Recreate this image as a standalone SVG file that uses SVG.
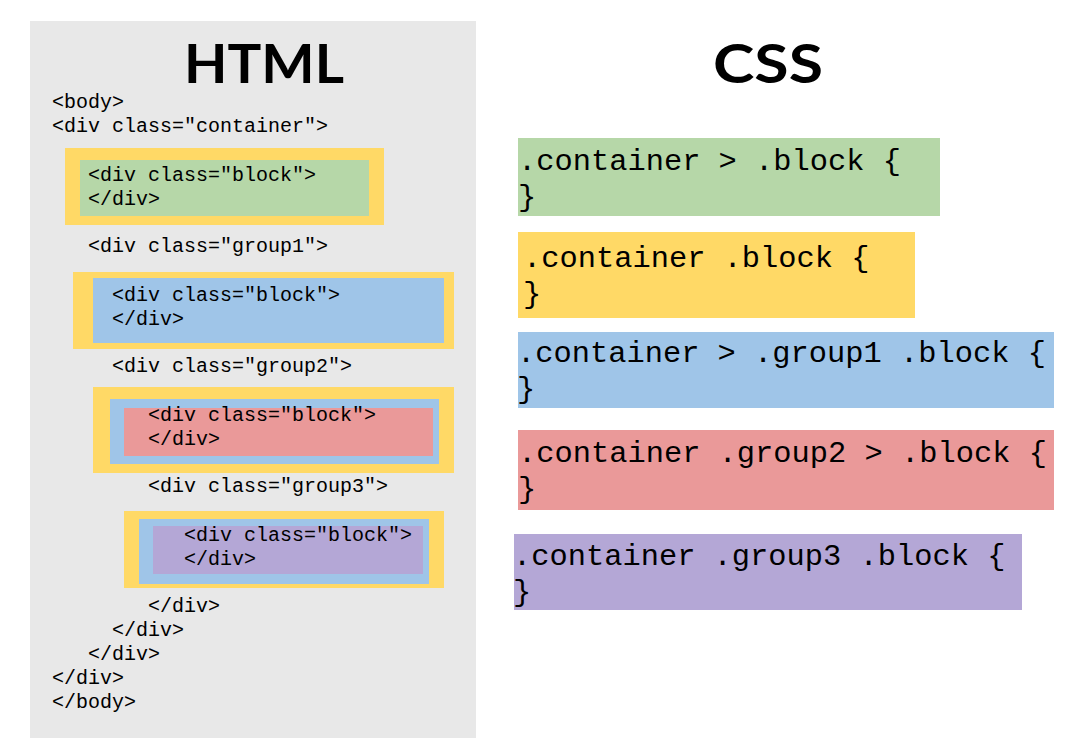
<svg xmlns="http://www.w3.org/2000/svg" width="1083" height="753" viewBox="0 0 1083 753">
<style>
.title{font-family:Lato,"Noto Sans","Liberation Sans",sans-serif;font-weight:700;font-size:54px;fill:#000;text-anchor:middle}
.code{font-family:"Liberation Mono","Courier New",monospace;font-size:20px;fill:#000}
.css{font-family:"Liberation Mono","Courier New",monospace;font-size:30.4px;fill:#000}
.y{fill:#ffd966}.g{fill:#b6d7a8}.b{fill:#9fc5e8}.r{fill:#ea9999}.p{fill:#b4a7d6}
</style>
<rect width="1083" height="753" fill="#ffffff"/>
<g id="html-panel">
<rect x="30" y="21" width="446" height="717" fill="#e8e8e8"/>
<text class="title" x="264" y="83" textLength="160" lengthAdjust="spacingAndGlyphs">HTML</text>
</g>
<g id="html-code">
<text class="code" x="52" y="108">&lt;body&gt;</text>
<text class="code" x="52" y="132">&lt;div class="container"&gt;</text>
<text class="code" x="88" y="252">&lt;div class="group1"&gt;</text>
<text class="code" x="112" y="372">&lt;div class="group2"&gt;</text>
<text class="code" x="148" y="492">&lt;div class="group3"&gt;</text>
<text class="code" x="148" y="612">&lt;/div&gt;</text>
<text class="code" x="112" y="636">&lt;/div&gt;</text>
<text class="code" x="88" y="660">&lt;/div&gt;</text>
<text class="code" x="52" y="684">&lt;/div&gt;</text>
<text class="code" x="52" y="708">&lt;/body&gt;</text>
</g>
<g id="html-block1">
<rect class="y" x="65" y="148" width="319" height="77"/>
<rect class="g" x="80" y="160" width="289" height="56"/>
<text class="code" x="88" y="181">&lt;div class="block"&gt;</text>
<text class="code" x="88" y="205">&lt;/div&gt;</text>
</g>
<g id="html-block2">
<rect class="y" x="73" y="272" width="381" height="77"/>
<rect class="b" x="93" y="278" width="351" height="65"/>
<text class="code" x="112" y="301">&lt;div class="block"&gt;</text>
<text class="code" x="112" y="325">&lt;/div&gt;</text>
</g>
<g id="html-block3">
<rect class="y" x="93" y="387" width="361" height="86"/>
<rect class="b" x="110" y="399" width="329" height="65"/>
<rect class="r" x="124" y="408" width="309" height="48"/>
<text class="code" x="148" y="421">&lt;div class="block"&gt;</text>
<text class="code" x="148" y="445">&lt;/div&gt;</text>
</g>
<g id="html-block4">
<rect class="y" x="124" y="511" width="320" height="77"/>
<rect class="b" x="139" y="519" width="290" height="65"/>
<rect class="p" x="153" y="526" width="270" height="48"/>
<text class="code" x="184" y="541">&lt;div class="block"&gt;</text>
<text class="code" x="184" y="565">&lt;/div&gt;</text>
</g>
<g id="css-title">
<text class="title" x="768" y="83" textLength="110" lengthAdjust="spacingAndGlyphs">CSS</text>
</g>
<g id="css-rule1">
<rect class="g" x="518" y="138" width="422" height="78"/>
<text class="css" x="518" y="170">.container &gt; .block {</text>
<text class="css" x="518" y="206">}</text>
</g>
<g id="css-rule2">
<rect class="y" x="518" y="232" width="397" height="86"/>
<text class="css" x="523" y="267">.container .block {</text>
<text class="css" x="523" y="303">}</text>
</g>
<g id="css-rule3">
<rect class="b" x="518" y="332" width="536" height="76"/>
<text class="css" x="517" y="362">.container &gt; .group1 .block {</text>
<text class="css" x="517" y="398">}</text>
</g>
<g id="css-rule4">
<rect class="r" x="518" y="430" width="536" height="80"/>
<text class="css" x="518" y="462">.container .group2 &gt; .block {</text>
<text class="css" x="518" y="498">}</text>
</g>
<g id="css-rule5">
<rect class="p" x="514" y="534" width="508" height="76"/>
<text class="css" x="513" y="565">.container .group3 .block {</text>
<text class="css" x="513" y="601">}</text>
</g>
</svg>
